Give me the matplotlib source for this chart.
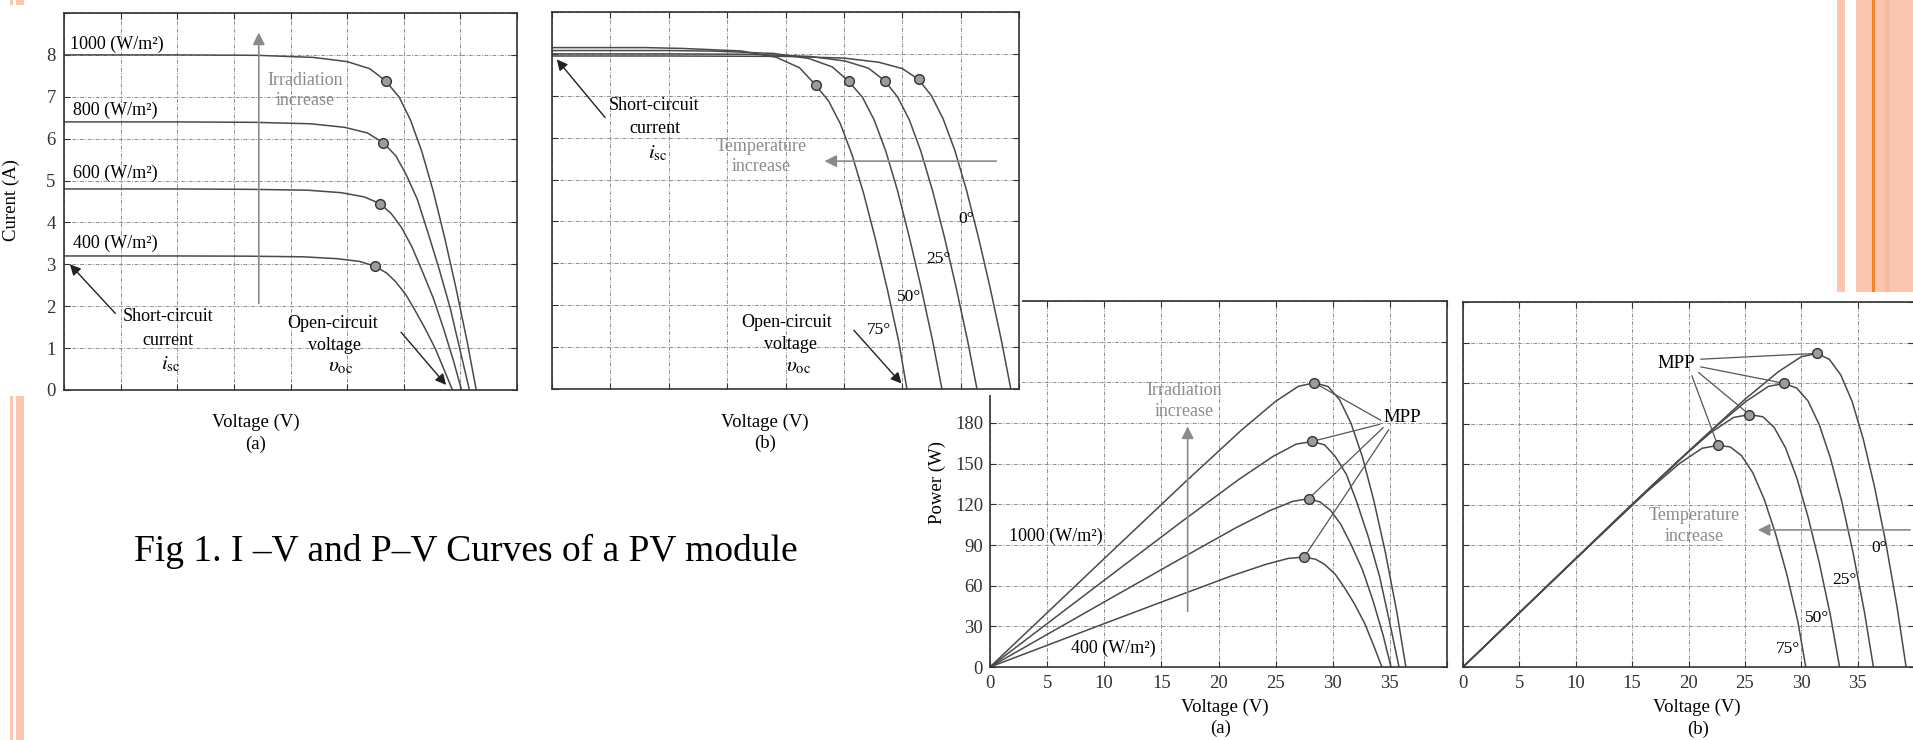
import numpy as np
import matplotlib.pyplot as plt
from matplotlib.patches import Rectangle

plt.rcParams['font.family'] = ['Liberation Serif', 'DejaVu Serif']
plt.rcParams['mathtext.fontset'] = 'stix'

W, H = 1913, 740

# ---- irradiation curves (I-V panel a, P-V panel a) ----
irr_names = ['1000 (W/m²)', '800 (W/m²)', '600 (W/m²)', '400 (W/m²)']
irr_v = [
    [0, 10, 17.0, 22.0, 25.0, 27.0, 28.4, 29.6, 30.6, 31.6, 32.6, 33.6, 34.6, 35.6, 36.4],
    [0, 10, 16.8, 21.8, 24.8, 26.8, 28.2, 29.3, 30.2, 31.2, 32.1, 33.1, 34.1, 35.0, 35.8],
    [0, 10, 16.5, 21.5, 24.5, 26.5, 27.9, 28.9, 29.8, 30.7, 31.6, 32.6, 33.5, 34.4, 35.1],
    [0, 10, 16.1, 21.1, 24.1, 26.1, 27.5, 28.5, 29.3, 30.2, 31.0, 31.9, 32.8, 33.6, 34.3],
]
irr_i = [
    [8.0, 8.0, 7.99, 7.94, 7.84, 7.67, 7.38, 6.99, 6.44, 5.69, 4.75, 3.65, 2.45, 1.15, 0.0],
    [6.4, 6.4, 6.39, 6.355, 6.27, 6.135, 5.9, 5.59, 5.15, 4.55, 3.79, 2.91, 1.96, 0.92, 0.0],
    [4.8, 4.8, 4.79, 4.77, 4.71, 4.61, 4.45, 4.21, 3.88, 3.43, 2.86, 2.20, 1.48, 0.69, 0.0],
    [3.2, 3.2, 3.195, 3.18, 3.135, 3.07, 2.95, 2.79, 2.58, 2.27, 1.90, 1.46, 0.98, 0.46, 0.0],
]
irr_p = [
    [0, 80.0, 135.8, 174.7, 196.0, 207.1, 209.6, 206.9, 197.1, 179.8, 154.9, 122.6, 84.8, 40.9, 0],
    [0, 64.0, 107.4, 138.5, 155.5, 164.4, 166.4, 163.8, 155.5, 142.0, 121.7, 96.3, 66.8, 32.2, 0],
    [0, 48.0, 79.0, 102.6, 115.4, 122.2, 124.2, 121.7, 115.6, 105.3, 90.4, 71.7, 49.6, 23.7, 0],
    [0, 32.0, 51.4, 67.1, 75.6, 80.1, 81.1, 79.5, 75.6, 68.6, 58.9, 46.6, 32.1, 15.5, 0],
]
irr_mpp_v = [28.4, 28.2, 27.9, 27.5]
irr_mpp_i = [7.38, 5.9, 4.45, 2.95]
irr_mpp_p = [209.6, 166.4, 124.2, 81.1]

# ---- temperature curves (I-V panel b, P-V panel b) ----
temp_names = ['0°', '25°', '50°', '75°']
temp_v = [
    [0, 10, 20.0, 25.0, 28.0, 30.0, 31.4, 32.5, 33.5, 34.5, 35.5, 36.5, 37.5, 38.5, 39.3],
    [0, 10, 17.1, 22.1, 25.1, 27.1, 28.5, 29.6, 30.6, 31.6, 32.6, 33.6, 34.6, 35.6, 36.4],
    [0, 10, 14.0, 19.0, 22.0, 24.0, 25.4, 26.6, 27.6, 28.6, 29.6, 30.6, 31.6, 32.6, 33.4],
    [0, 8, 11.2, 16.2, 19.2, 21.2, 22.6, 23.7, 24.7, 25.7, 26.7, 27.7, 28.7, 29.7, 30.4],
]
temp_i = [
    [7.95, 7.95, 7.94, 7.9, 7.80, 7.65, 7.39, 7.0, 6.45, 5.70, 4.75, 3.65, 2.45, 1.15, 0.0],
    [8.0, 8.0, 7.99, 7.94, 7.83, 7.66, 7.36, 6.97, 6.43, 5.67, 4.73, 3.64, 2.44, 1.15, 0.0],
    [8.08, 8.08, 8.065, 8.01, 7.89, 7.69, 7.35, 6.96, 6.42, 5.67, 4.73, 3.63, 2.44, 1.15, 0.0],
    [8.15, 8.15, 8.13, 8.07, 7.92, 7.67, 7.25, 6.87, 6.33, 5.59, 4.66, 3.58, 2.41, 1.13, 0.0],
]
temp_p = [
    [0, 80.0, 159.6, 198.0, 218.6, 229.5, 232.0, 227.5, 216.1, 196.7, 168.6, 133.2, 91.9, 44.3, 0],
    [0, 80.0, 136.6, 175.5, 196.5, 207.6, 209.8, 206.3, 196.8, 179.2, 154.2, 122.3, 84.4, 40.9, 0],
    [0, 80.4, 112.6, 151.9, 173.6, 184.6, 186.7, 185.1, 177.2, 162.2, 140.0, 111.1, 77.1, 37.5, 0],
    [0, 64.2, 89.8, 129.0, 150.5, 161.8, 163.9, 162.8, 156.4, 143.7, 124.4, 99.2, 69.2, 33.6, 0],
]
temp_mpp_v = [31.4, 28.5, 25.4, 22.6]
temp_mpp_i = [7.39, 7.36, 7.35, 7.25]
temp_mpp_p = [232.0, 209.8, 186.7, 163.9]

v_ticks = [0, 5, 10, 15, 20, 25, 30, 35, 40]
v_ticklabels = ['0', '5', '10', '15', '20', '25', '30', '35', '']
i_ticks = [0, 1, 2, 3, 4, 5, 6, 7, 8, 9]
i_ticklabels = ['0', '1', '2', '3', '4', '5', '6', '7', '8', '']
p_ticks = [0, 30, 60, 90, 120, 150, 180, 210, 240, 270]
p_ticklabels = ['0', '30', '60', '90', '120', '150', '180', '', '', '']

CURVE = '#4a4a4a'
GRAYTXT = '#8c8c8c'
ORANGE = '#fbc6b0'
FS = 13

fig = plt.figure(figsize=(W / 100, H / 100), dpi=100)


def px(x, y):
    return x / W, 1 - y / H


def make_ax(l, t, r, b, yt, z):
    ax = fig.add_axes([l / W, 1 - b / H, (r - l) / W, (b - t) / H], zorder=z)
    ax.set_xlim(0, 40)
    ax.set_ylim(0, yt[-1])
    ax.set_xticks(v_ticks)
    ax.set_yticks(yt)
    ax.set_axisbelow(True)
    ax.grid(True, color='#8f8f8f', lw=0.7, ls=(0, (4, 1.5, 1, 1.5)))
    ax.tick_params(direction='in', length=4, width=0.8, top=True, right=True,
                   colors='#333333', labelsize=13.5, pad=6)
    for s in ax.spines.values():
        s.set_color('#333333')
        s.set_linewidth(1.2)
    return ax


def mpp_marker(ax, x, y):
    ax.plot(x, y, 'o', ms=7, mfc='#9c9c9c', mec='#333333', mew=1.0, ls='none', zorder=5)


# ---------------- panel 1 : I-V irradiation ----------------
ax1 = make_ax(64, 13, 517, 390, i_ticks, 0)
ax1.set_xticklabels([''] * len(v_ticks))
ax1.set_yticklabels(i_ticklabels)
for v, i in zip(irr_v, irr_i):
    ax1.plot(v, i, color=CURVE, lw=1.1)
mpp_marker(ax1, irr_mpp_v, irr_mpp_i)
ax1.text(0.5, 8.25, irr_names[0], fontsize=FS, va='center', ha='left')
for name, y in zip(irr_names[1:], [6.67, 5.17, 3.51]):
    ax1.text(0.8, y, name, fontsize=FS, va='center', ha='left')
ax1.annotate('', xy=(17.2, 8.6), xytext=(17.2, 2.0),
             arrowprops=dict(arrowstyle='-|>', color='#8a8a8a', lw=1.2, mutation_scale=18))
ax1.text(21.3, 7.15, 'Irradiation\nincrease', color=GRAYTXT, fontsize=FS, ha='center', va='center',
         linespacing=1.3)
ax1.text(9.2, 1.75, 'Short-circuit', fontsize=FS, ha='center', va='center')
ax1.text(9.2, 1.19, 'current', fontsize=FS, ha='center', va='center')
ax1.text(9.4, 0.62, r'$i_{\rm sc}$', fontsize=15, ha='center', va='center')
ax1.annotate('', xy=(0.35, 3.05), xytext=(4.7, 1.78),
             arrowprops=dict(arrowstyle='-|>', color='#222222', lw=1.0, mutation_scale=16))
ax1.text(23.7, 1.59, 'Open-circuit', fontsize=FS, ha='center', va='center')
ax1.text(23.9, 1.07, 'voltage', fontsize=FS, ha='center', va='center')
ax1.text(24.4, 0.55, r'$\upsilon_{\rm oc}$', fontsize=15, ha='center', va='center')
ax1.annotate('', xy=(33.9, 0.07), xytext=(29.6, 1.43),
             arrowprops=dict(arrowstyle='-|>', color='#222222', lw=1.0, mutation_scale=16))
fig.text(*px(11, 200), 'Curent (A)', rotation=90, fontsize=13.5, ha='center', va='center')
fig.text(*px(256, 422), 'Voltage (V)', fontsize=13.5, ha='center', va='center')
fig.text(*px(256, 444), '(a)', fontsize=13.5, ha='center', va='center')

# ---------------- panel 3 : P-V irradiation ----------------
ax3 = make_ax(990, 301, 1447, 667, p_ticks, 1)
ax3.set_xticklabels(v_ticklabels)
ax3.set_yticklabels(p_ticklabels)
ax3.tick_params(axis='y', pad=5)
for v, p in zip(irr_v, irr_p):
    ax3.plot(v, p, color=CURVE, lw=1.1)
mpp_src = [(34.2, 182.0), (34.1, 179.0), (34.4, 176.5), (34.9, 175.0)]
for (sx, sy), mv, mp in zip(mpp_src, irr_mpp_v, irr_mpp_p):
    ax3.plot([sx, mv], [sy, mp], color='#555555', lw=0.9)
mpp_marker(ax3, irr_mpp_v, irr_mpp_p)
ax3.text(36.1, 184, 'MPP', fontsize=13.5, ha='center', va='center')
ax3.annotate('', xy=(17.3, 179.5), xytext=(17.3, 39),
             arrowprops=dict(arrowstyle='-|>', color='#8a8a8a', lw=1.2, mutation_scale=18))
ax3.text(17.0, 196.5, 'Irradiation\nincrease', color=GRAYTXT, fontsize=FS, ha='center', va='center',
         linespacing=1.3)
ax3.text(5.8, 96.4, irr_names[0], fontsize=FS, ha='center', va='center')
ax3.text(10.8, 13.5, irr_names[-1], fontsize=FS, ha='center', va='center')
fig.text(*px(937, 482), 'Power (W)', rotation=90, fontsize=13.5, ha='center', va='center')
fig.text(*px(1225, 707), 'Voltage (V)', fontsize=13.5, ha='center', va='center')
fig.text(*px(1221, 728), '(a)', fontsize=13.5, ha='center', va='center')

# white backing of the I-V (b) picture, lying over P-V (a)
fig.add_artist(Rectangle(px(535, 395), (1022 - 535) / W, 395 / H, transform=fig.transFigure,
                         facecolor='white', edgecolor='none', zorder=2))

# ---------------- panel 2 : I-V temperature ----------------
ax2 = make_ax(552, 12, 1019, 389, i_ticks, 3)
ax2.set_xticklabels([''] * len(v_ticks))
ax2.set_yticklabels([''] * len(i_ticks))
for v, i in zip(temp_v, temp_i):
    ax2.plot(v, i, color=CURVE, lw=1.1)
mpp_marker(ax2, temp_mpp_v, temp_mpp_i)
ax2.text(8.7, 6.77, 'Short-circuit', fontsize=FS, ha='center', va='center')
ax2.text(8.8, 6.21, 'current', fontsize=FS, ha='center', va='center')
ax2.text(9.1, 5.62, r'$i_{\rm sc}$', fontsize=15, ha='center', va='center')
ax2.annotate('', xy=(0.26, 7.92), xytext=(4.7, 6.43),
             arrowprops=dict(arrowstyle='-|>', color='#222222', lw=1.0, mutation_scale=16))
ax2.text(17.9, 5.55, 'Temperature\nincrease', color=GRAYTXT, fontsize=FS, ha='center', va='center',
         linespacing=1.3)
ax2.annotate('', xy=(23.1, 5.44), xytext=(38.3, 5.44),
             arrowprops=dict(arrowstyle='-|>', color='#8a8a8a', lw=1.2, mutation_scale=18))
for name, x, y in zip(temp_names, [35.5, 33.1, 30.6, 28.0], [4.07, 3.1, 2.2, 1.41]):
    ax2.text(x, y, name, fontsize=12.5, ha='center', va='center')
ax2.text(20.1, 1.59, 'Open-circuit', fontsize=FS, ha='center', va='center')
ax2.text(20.4, 1.06, 'voltage', fontsize=FS, ha='center', va='center')
ax2.text(21.1, 0.52, r'$\upsilon_{\rm oc}$', fontsize=15, ha='center', va='center')
ax2.annotate('', xy=(30.1, 0.08), xytext=(25.7, 1.45),
             arrowprops=dict(arrowstyle='-|>', color='#222222', lw=1.0, mutation_scale=16))
fig.text(*px(765, 422), 'Voltage (V)', fontsize=13.5, ha='center', va='center', zorder=4)
fig.text(*px(765, 443), '(b)', fontsize=13.5, ha='center', va='center', zorder=4)

# ---------------- panel 4 : P-V temperature ----------------
ax4 = make_ax(1463, 302, 1914, 667, p_ticks, 1)
ax4.set_xticklabels(v_ticklabels)
ax4.set_yticklabels([''] * len(p_ticks))
for v, p in zip(temp_v, temp_p):
    ax4.plot(v, p, color=CURVE, lw=1.1)
mpp_src4 = [(21.1, 227.7), (21.1, 222.0), (20.9, 217.8), (20.3, 215.4)]
for (sx, sy), mv, mp in zip(mpp_src4, temp_mpp_v, temp_mpp_p):
    ax4.plot([sx, mv], [sy, mp], color='#555555', lw=0.9)
mpp_marker(ax4, temp_mpp_v, temp_mpp_p)
ax4.text(18.9, 224.5, 'MPP', fontsize=13.5, ha='center', va='center')
ax4.text(20.55, 104, 'Temperature\nincrease', color=GRAYTXT, fontsize=FS, ha='center', va='center',
         linespacing=1.3)
ax4.annotate('', xy=(25.9, 101.4), xytext=(39.9, 101.4),
             arrowprops=dict(arrowstyle='-|>', color='#8a8a8a', lw=1.2, mutation_scale=18))
for name, x, y in zip(temp_names, [36.9, 33.8, 31.4, 28.8], [88, 64, 36.2, 13.5]):
    ax4.text(x, y, name, fontsize=12.5, ha='center', va='center')
fig.text(*px(1697, 707), 'Voltage (V)', fontsize=13.5, ha='center', va='center')
fig.text(*px(1698, 729), '(b)', fontsize=13.5, ha='center', va='center')

# ---------------- caption and slide decoration ----------------
fig.text(*px(134, 551), 'Fig 1. I \u2013V and P\u2013V Curves of a PV module', fontsize=27,
         ha='left', va='center')


def bar(x0, y0, x1, y1, color):
    fig.add_artist(Rectangle(px(x0, y1), (x1 - x0) / W, (y1 - y0) / H, transform=fig.transFigure,
                             facecolor=color, edgecolor='none', zorder=5))


bar(10, 0, 13, 5, ORANGE)
bar(16, 0, 24, 5, ORANGE)
bar(10, 396, 13, 740, ORANGE)
bar(16, 396, 24, 740, ORANGE)
bar(1837, 0, 1845, 292, ORANGE)
bar(1856, 0, 1913, 292, ORANGE)
bar(1885, 0, 1890, 292, '#f9bb9e')
bar(1872, 0, 1875, 292, '#f5832e')

fig.savefig('out.png', dpi=100, facecolor='white')
